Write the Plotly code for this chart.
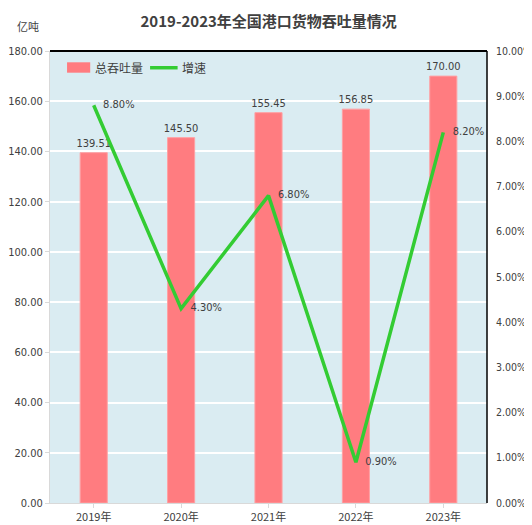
import plotly.graph_objects as go

years = ["2019年", "2020年", "2021年", "2022年", "2023年"]
throughput = [139.51, 145.50, 155.45, 156.85, 170.00]
growth = [0.088, 0.043, 0.068, 0.009, 0.082]
growth_labels = ["8.80%", "4.30%", "6.80%", "0.90%", "8.20%"]

font_num = "DejaVu Sans Condensed, Liberation Sans, sans-serif"
font_cjk = "Noto Sans CJK SC"
txt = "#404040"

fig = go.Figure()
fig.add_trace(go.Bar(
    x=years, y=throughput, name="总吞吐量",
    marker=dict(color="#ff7c80", line=dict(color="#ffa0a3", width=1)),
    width=0.31,
    text=[f"{v:.2f}" for v in throughput], textposition="outside",
    constraintext="none",
    textfont=dict(size=11, color=txt, family=font_num),
    cliponaxis=False, showlegend=False,
))
fig.add_trace(go.Scatter(
    x=years, y=growth, name="增速", yaxis="y2", mode="lines+text",
    line=dict(color="#33cc33", width=3.5),
    text=["   " + s for s in growth_labels], textposition="middle right",
    textfont=dict(size=11, color=txt, family=font_num),
    cliponaxis=False, showlegend=False,
))

fig.update_layout(
    width=532, height=525,
    margin=dict(l=42, r=53, t=43, b=30, autoexpand=False),
    paper_bgcolor="white", plot_bgcolor="#daecf2",
    title=dict(text="2019-2023年全国港口货物吞吐量情况", x=0.49, xanchor="center",
               y=0.973, yanchor="middle",
               font=dict(family=font_cjk, size=15, color=txt, weight="bold")),
    xaxis=dict(showgrid=False, showline=True, linecolor="#d9d9d9", linewidth=1,
               ticks="outside", ticklen=4, tickcolor="#d9d9d9", automargin=False,
               tickfont=dict(family=font_cjk, size=11, color=txt),
               ticklabelstandoff=0),
    yaxis=dict(range=[0, 180], dtick=20, tickformat=".2f", showgrid=True,
               gridcolor="white", gridwidth=1.5, showline=True, linecolor="#d9d9d9",
               ticks="outside", ticklen=4, tickcolor="#d9d9d9", automargin=False,
               tickfont=dict(family=font_num, size=11, color=txt), zeroline=False),
    yaxis2=dict(range=[0, 0.10], dtick=0.01, tickformat=".2%", overlaying="y", side="right",
                showgrid=False, showline=False, zeroline=False, automargin=False,
                ticklabelstandoff=8,
                tickfont=dict(family=font_num, size=10.5, color=txt)),
    annotations=[
        dict(text="亿吨", xref="paper", yref="paper", x=-0.08, y=1.055,
             xanchor="left", yanchor="middle", showarrow=False,
             font=dict(family=font_cjk, size=11, color=txt)),
        dict(text="总吞吐量", xref="paper", yref="paper", x=0.098, y=0.963,
             xanchor="left", yanchor="middle", showarrow=False,
             font=dict(family=font_cjk, size=12, color=txt)),
        dict(text="增速", xref="paper", yref="paper", x=0.297, y=0.963,
             xanchor="left", yanchor="middle", showarrow=False,
             font=dict(family=font_cjk, size=12, color=txt)),
    ],
    shapes=[
        dict(type="line", xref="paper", yref="paper", x0=0, x1=1, y0=1, y1=1,
             line=dict(color="black", width=2)),
        dict(type="line", xref="paper", yref="paper", x0=1, x1=1, y0=0, y1=1,
             line=dict(color="black", width=1.5)),
        dict(type="rect", xref="paper", yref="paper", x0=0.039, x1=0.092, y0=0.952, y1=0.975,
             fillcolor="#ff7c80", line=dict(width=0)),
        dict(type="line", xref="paper", yref="paper", x0=0.229, x1=0.292, y0=0.963, y1=0.963,
             line=dict(color="#33cc33", width=3.5)),
    ],
)

fig.write_html("out.html")
